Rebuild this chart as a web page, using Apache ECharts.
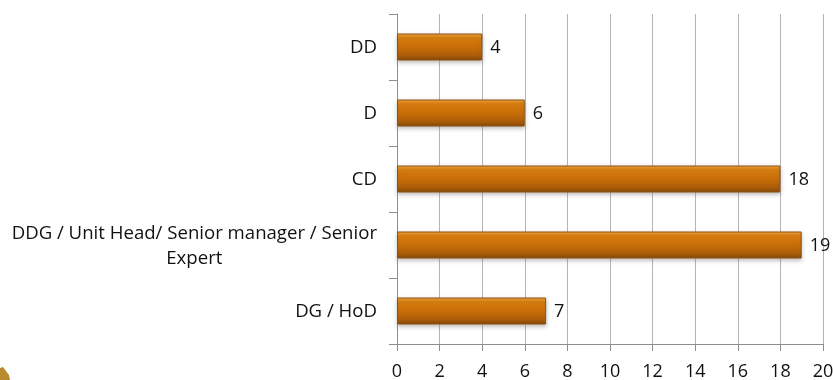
<!DOCTYPE html>
<html>
<head>
<meta charset="utf-8">
<style>html,body{margin:0;padding:0;background:#fff}#c{width:833px;height:380px}</style>
<script src="https://cdn.jsdelivr.net/npm/echarts@6/dist/echarts.min.js"></script>
</head>
<body>
<div id="c"></div>
<script>
// Bottom-to-top order of the grade categories
const categories = ['DG / HoD', 'DDG / Unit Head/ Senior manager / Senior\nExpert', 'CD', 'D', 'DD'];
const counts = [7, 19, 18, 6, 4];
const axisMax = 20;
const axisStep = 2;

const chart = echarts.init(document.getElementById('c'), null, {renderer: 'canvas'});
const font = '"Open Sans", Lato, sans-serif';
const axisGrey = '#8e8e8e';
const ink = '#111';
const textSize = 18;
const categorySize = 18.6;

chart.setOption({
  animation: false,
  backgroundColor: '#fff',
  textStyle: {fontFamily: font},
  grid: {left: 397, right: 10, top: 14, bottom: 36, containLabel: false, outerBoundsMode: 'none'},
  xAxis: {
    type: 'value', min: 0, max: axisMax, interval: axisStep,
    axisLine: {show: true, lineStyle: {color: axisGrey, width: 1}},
    axisTick: {show: true, length: 7, lineStyle: {color: axisGrey}},
    axisLabel: {color: ink, fontSize: textSize, fontFamily: font, margin: 19, hideOverlap: false},
    splitLine: {show: true, lineStyle: {color: '#b4b4b4', width: 1}}
  },
  yAxis: {
    type: 'category', data: categories,
    axisLine: {show: true, lineStyle: {color: axisGrey, width: 1}},
    axisTick: {show: true, length: 8, alignWithLabel: false, lineStyle: {color: axisGrey}},
    axisLabel: {
      margin: 20, color: ink, fontSize: categorySize, fontFamily: font, lineHeight: 25,
      padding: [2, 0, 0, 0],
      formatter: v => v.split('\n').map(line => '{l|' + line + '}').join('\n'),
      rich: {l: {align: 'center', fontSize: categorySize, lineHeight: 25, color: ink, fontFamily: font}}
    }
  },
  series: [{
    type: 'bar',
    data: counts,
    barWidth: 27,
    itemStyle: {
      color: {
        type: 'linear', x: 0, y: 0, x2: 0, y2: 1,
        colorStops: [
          {offset: 0, color: '#f6ae4e'},
          {offset: 0.09, color: '#e98e1e'},
          {offset: 0.16, color: '#d97c0c'},
          {offset: 0.55, color: '#c56c08'},
          {offset: 0.85, color: '#a65a08'},
          {offset: 1, color: '#7e4506'}
        ]
      },
      borderColor: '#8f5310',
      borderWidth: 1,
      shadowColor: 'rgba(110,110,110,0.45)',
      shadowBlur: 4,
      shadowOffsetY: 2
    },
    label: {show: true, position: 'right', distance: 8, offset: [0, 1], color: ink, fontSize: textSize, fontFamily: font}
  }],
  graphic: [{
    type: 'polygon', silent: true,
    shape: {points: [[0, 368], [3, 367], [9, 375], [10, 380], [0, 380]]},
    style: {fill: '#b98a30'}
  }]
});
</script>
</body>
</html>
